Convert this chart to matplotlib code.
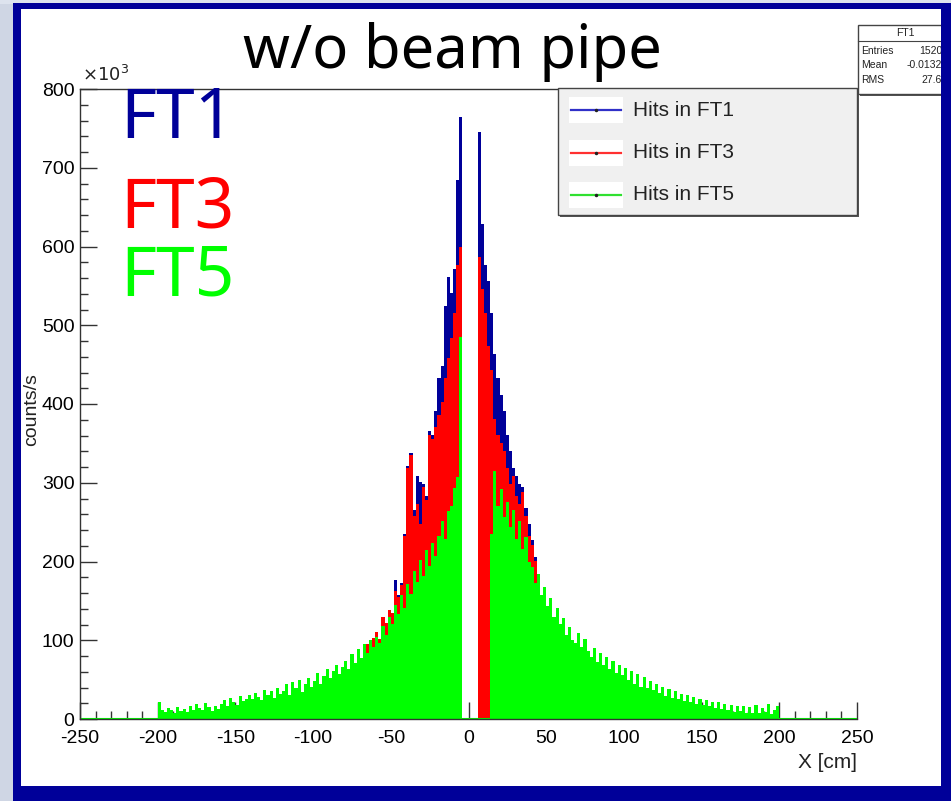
import numpy as np
import matplotlib
matplotlib.use("Agg")
import matplotlib.pyplot as plt
from matplotlib.patches import Rectangle
from matplotlib.lines import Line2D

# ---------------- data (counts/s, in units of 10^3), 2 cm bins ----------------
bin_width = 2
ft5_start = -200
ft5_values = [
    21, 12, 9, 14, 11, 8, 15, 10, 13, 9,
    16, 11, 19, 14, 12, 20, 15, 10, 17, 13,
    19, 24, 17, 27, 21, 18, 29, 23, 26, 31,
    25, 33, 28, 24, 37, 30, 35, 27, 40, 32,
    36, 44, 31, 47, 39, 50, 34, 45, 52, 41,
    48, 59, 44, 55, 64, 52, 61, 69, 57, 66,
    74, 63, 82, 71, 89, 77, 95, 84, 100, 91,
    104, 96, 118, 107, 130, 121, 145, 133, 157, 141,
    171, 159, 188, 174, 202, 182, 214, 194, 223, 207,
    233, 251, 228, 264, 270, 293, 307, 485,
    0, 0, 0, 0, 0, 0, 0, 0, 0,
    235, 315, 270,
    292, 256, 276, 244, 266, 229, 251, 216, 231, 199,
    193, 173, 184, 158, 167, 143, 154, 130, 141, 121,
    128, 107, 117, 100, 96, 109, 92, 101, 86, 79,
    90, 73, 84, 69, 79, 63, 74, 59, 69, 56,
    65, 49, 61, 45, 57, 41, 53, 39, 48, 37,
    45, 33, 41, 29, 38, 27, 35, 25, 32, 23,
    31, 21, 28, 19, 26, 18, 24, 16, 22, 14,
    21, 13, 19, 11, 18, 9, 17, 10, 16, 8,
    15, 8, 18, 7, 14, 9, 19, 6, 12, 16,
]

inner_start = -70
ft3_values = [
    74, 77, 95, 84, 103,
    111, 101, 129, 122, 139, 134, 163, 155, 170, 232,
    319, 335, 258, 273, 247, 294, 278, 361, 355, 371,
    386, 402, 433, 458, 484, 515, 577, 600,
    0, 0, 0, 0, 0,
    587, 546, 515, 474, 443, 381, 361,
    350, 340, 319, 299, 309, 283, 273, 288, 258, 232, 221, 201, 173, 155, 124,
]
ft1_values = [
    72, 76, 93, 82, 101,
    109, 100, 126, 119, 136, 132, 177, 157, 173, 235,
    321, 338, 266, 309, 301, 299, 283, 366, 361, 391,
    433, 448, 525, 561, 541, 572, 685, 765,
    0, 0, 0, 0, 0,
    745, 628, 577, 556, 515, 464, 433,
    412, 391, 361, 340, 319, 309, 299, 294, 268, 247, 227, 206, 180, 157, 126,
]

series_names = ["Hits in FT1", "Hits in FT3", "Hits in FT5"]
stats_title = "FT1"
stats_rows = [("Entries", "15200"), ("Mean", "-0.01329"), ("RMS", "27.69")]
x_ticks = [-250, -200, -150, -100, -50, 0, 50, 100, 150, 200, 250]
y_ticks = [0, 100, 200, 300, 400, 500, 600, 700, 800]

# ---------------- styling ----------------
W, H = 951, 801
NAVY = "#000099"
FT1_COL = "#000099"
FT3_COL = "#ff0000"
FT5_COL = "#00ff00"
NARROW = ["Liberation Sans Narrow", "Liberation Sans", "DejaVu Sans"]
AX_TOP, AX_BOT, AX_L, AX_R = 89, 719, 80, 857

fig = plt.figure(figsize=(W / 100, H / 100), dpi=100)
fig.patch.set_facecolor("white")


def fx(x):
    return x / W


def fy(y):
    return 1 - y / H


def rect_px(x0, y0, x1, y1, **kw):
    r = Rectangle((fx(x0), fy(y1)), (x1 - x0) / W, (y1 - y0) / H,
                  transform=fig.transFigure, **kw)
    fig.patches.append(r)
    return r


# slide background strip
rect_px(0, 0, 13, H, facecolor="#cfd6e4", edgecolor="none", zorder=0)
rect_px(0, 0, W, 4, facecolor="#dde3ee", edgecolor="none", zorder=0)

# ---------------- axes ----------------
ax = fig.add_axes([fx(AX_L), fy(AX_BOT), (AX_R - AX_L) / W, (AX_BOT - AX_TOP) / H])
ax.set_facecolor("white")

edges5 = ft5_start + bin_width * np.arange(len(ft5_values) + 1)
edges_in = inner_start + bin_width * np.arange(len(ft3_values) + 1)

ax.stairs(ft1_values, edges_in, fill=True, color=FT1_COL, zorder=1)
ax.stairs(ft3_values, edges_in, fill=True, color=FT3_COL, zorder=2)
ax.stairs(ft5_values, edges5, fill=True, color=FT5_COL, zorder=3)
ax.plot([-250, 250], [0, 0], color=FT5_COL, lw=1.5, zorder=3.5)

ax.set_xlim(-250, 250)
ax.set_ylim(0, 800)
ax.spines["right"].set_visible(False)
for s in ["left", "bottom", "top"]:
    ax.spines[s].set_color("#333333")
    ax.spines[s].set_linewidth(1.0)
    ax.spines[s].set_zorder(5)
ax.set_xticks(x_ticks)
ax.set_xticks(np.arange(-250, 251, 10), minor=True)
ax.set_yticks(y_ticks)
ax.set_yticks(np.arange(0, 801, 20), minor=True)
ax.tick_params(which="major", direction="in", length=12, width=1.0, color="#333333",
               top=False, right=False, pad=4)
ax.tick_params(which="minor", direction="in", length=6, width=1.0, color="#333333",
               top=False, right=False)
ax.tick_params(axis="x", which="major", pad=8)
ax.set_xticklabels([str(t) for t in x_ticks], family=NARROW, fontsize=14)
ax.set_yticklabels([str(t) for t in y_ticks], family=NARROW, fontsize=14)

fig.text(fx(82), fy(AX_TOP - 4), r"$\times10^{3}$", family=NARROW, fontsize=13,
         ha="left", va="bottom", color="#222222")
fig.text(fx(32), fy(410), "counts/s", family=NARROW, fontsize=14,
         rotation=90, ha="center", va="center", color="#222222")
fig.text(fx(857), fy(763), "X [cm]", family=NARROW, fontsize=15,
         ha="right", va="center", color="#222222")

# ---------------- legend ----------------
rect_px(560, 90, 859, 217, facecolor="#555555", edgecolor="none", zorder=7)
rect_px(558, 88, 857, 215, facecolor="#f0f0f0", edgecolor="#444444", lw=1.0, zorder=8)
leg_y = [110, 153, 195]
for name, col, yy in zip(series_names, ["#3030c8", "#ff3030", "#30e030"], leg_y):
    rect_px(569, yy - 13, 623, yy + 13, facecolor="white", edgecolor="none", zorder=9)
    fig.lines.append(Line2D([fx(571), fx(621)], [fy(yy), fy(yy)], transform=fig.transFigure,
                            color=col, lw=1.6, zorder=10))
    fig.lines.append(Line2D([fx(596)], [fy(yy)], transform=fig.transFigure, marker="o",
                            ms=1.5, color="#222222", zorder=11))
    fig.text(fx(633), fy(yy), name, family=NARROW, fontsize=15, ha="left", va="center",
             color="#222222", zorder=12)

# ---------------- stats box ----------------
rect_px(860, 27, 953, 96, facecolor="#555555", edgecolor="none", zorder=7)
rect_px(858, 25, 951, 94, facecolor="white", edgecolor="#444444", lw=1.0, zorder=8)
fig.lines.append(Line2D([fx(858), fx(951)], [fy(41), fy(41)], transform=fig.transFigure,
                        color="#444444", lw=0.8, zorder=9))
fig.text(fx(905), fy(33), stats_title, family=NARROW, fontsize=7.5, ha="center", va="center",
         color="#222222", zorder=10)
for i, (k, v) in enumerate(stats_rows):
    yy = 51 + i * 14.5
    fig.text(fx(861), fy(yy), k, family=NARROW, fontsize=7.5, ha="left", va="center",
             color="#222222", zorder=10)
    fig.text(fx(948), fy(yy), v, family=NARROW, fontsize=7.5, ha="right", va="center",
             color="#222222", zorder=10)

# ---------------- slide overlays ----------------
fig.text(fx(452), fy(52), "w/o beam pipe", family=["Noto Sans", "DejaVu Sans"], fontsize=43,
         ha="center", va="center", color="black", zorder=12)
big = ["Noto Sans", "DejaVu Sans"]
fig.text(fx(120), fy(120), "FT1", family=big, fontsize=50, color=FT1_COL, ha="left", va="center", zorder=12)
fig.text(fx(120), fy(209), "FT3", family=big, fontsize=50, color=FT3_COL, ha="left", va="center", zorder=12)
fig.text(fx(120), fy(278), "FT5", family=big, fontsize=50, color=FT5_COL, ha="left", va="center", zorder=12)

# blue slide frame
rect_px(13, 3, 21, 793, facecolor=NAVY, edgecolor="none", zorder=20)
rect_px(13, 3, 951, 9, facecolor=NAVY, edgecolor="none", zorder=20)
rect_px(941, 3, 951, 801, facecolor=NAVY, edgecolor="none", zorder=20)
rect_px(13, 786, 951, 801, facecolor=NAVY, edgecolor="none", zorder=20)

fig.savefig("out.png", dpi=100)
